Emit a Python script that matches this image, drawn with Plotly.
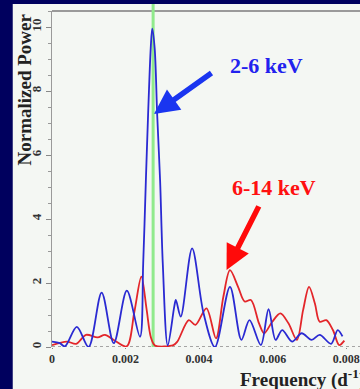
import plotly.graph_objects as go

# Power spectra: frequency (1/day) and normalized power
blue_freq = [0.0, 0.00021, 0.00035, 0.000675, 0.000995, 0.00135, 0.00168, 0.002035,
             0.002392, 0.00248, 0.002552, 0.002613, 0.002685, 0.002725, 0.002792,
             0.002861, 0.002941, 0.003013, 0.003147, 0.003325, 0.003368, 0.003501,
             0.00381, 0.00412, 0.00443, 0.00484, 0.00515, 0.00537, 0.00568, 0.00589,
             0.00608, 0.00626, 0.00653, 0.00679, 0.00706, 0.00728, 0.00759, 0.00777, 0.0079]
blue_power = [0.17, 0.12, 0.02, 0.63, 0.0, 1.7, 0.12, 1.76,
              0.32, 2.6, 5.17, 7.25, 9.34, 9.95, 9.34,
              7.25, 5.17, 2.6, 0.05, 1.26, 1.47, 0.95,
              3.08, 1.06, 0.0, 1.88, 0.22, 0.84, 0.06, 1.18,
              0.22, 0.53, 0.17, 0.43, 0.22, 0.38, 0.1, 0.53, 0.33]

red_freq = [0.0, 0.0004, 0.00066, 0.000925, 0.00124, 0.00144, 0.00168, 0.00203,
            0.00224, 0.00243, 0.00257, 0.00269, 0.0028, 0.0033, 0.00341, 0.00372,
            0.0039, 0.0042, 0.00446, 0.00466, 0.00484, 0.00506, 0.00524, 0.00541,
            0.00563, 0.00577, 0.00599, 0.00621, 0.00643, 0.00666, 0.00683, 0.00699,
            0.00715, 0.00728, 0.00746, 0.00764, 0.00781, 0.00795]
red_power = [0.06, 0.17, 0.1, 0.38, 0.3, 0.38, 0.22, 0.02,
             1.1, 2.2, 1.2, 0.3, 0.05, 0.06, 0.17, 0.84,
             0.69, 1.21, 0.27, 1.57, 2.4, 1.88, 1.42, 1.47,
             0.74, 0.43, 0.79, 1.05, 0.74, 0.22, 1.16, 1.88,
             1.36, 0.79, 0.84, 0.53, 0.06, 0.2]

peak_freq = 0.00275
x_ticks = [0, 0.002, 0.004, 0.006, 0.008]
x_tick_text = ["0", "0.002", "0.004", "0.006", "0.008"]
y_ticks = [0, 2, 4, 6, 8, 10]
band_labels = ["2-6 keV", "6-14 keV"]

# arrow tips (on the peaks) and label anchor points, in data units
blue_tip = (0.002773, 7.28)
red_tip = (0.004747, 2.41)
blue_label_pos = (0.005827, 8.81)
red_label_pos = (0.006040, 4.97)

SERIF = "Liberation Serif, Times New Roman, serif"
NAVY = "#00005e"
PANEL = "#f4f7f3"

fig = go.Figure()

fig.add_trace(go.Scatter(x=red_freq, y=red_power, mode="lines",
                         line=dict(color="#e3262a", width=1.8, shape="spline", smoothing=0.9),
                         showlegend=False, hoverinfo="skip"))
fig.add_trace(go.Scatter(x=blue_freq, y=blue_power, mode="lines",
                         line=dict(color="#2a2ad2", width=1.8, shape="spline", smoothing=0.9),
                         showlegend=False, hoverinfo="skip"))

shapes = [
    # light panel over the navy page
    dict(type="rect", xref="paper", yref="paper", x0=-0.13, x1=1.02, y0=-0.13, y1=1.0208,
         fillcolor=PANEL, line=dict(width=0), layer="below"),
    # frame top
    dict(type="line", xref="paper", yref="paper", x0=0, x1=1.02, y0=1.0, y1=1.0,
         line=dict(color="#9a9a9a", width=2), layer="below"),
    # zero baseline (dotted)
    dict(type="line", xref="paper", yref="y", x0=0, x1=1.02, y0=0, y1=0,
         line=dict(color="#8a8a8a", width=1.5, dash="dot"), layer="below"),
    # detected period marker
    dict(type="line", xref="x", yref="paper", x0=peak_freq, x1=peak_freq, y0=0, y1=1.0208,
         line=dict(color="#90ea8c", width=3), layer="below"),
]

annotations = [
    # arrows
    dict(text="", x=blue_tip[0], y=blue_tip[1], xref="x", yref="y",
         ax=59, ay=-42, axref="pixel", ayref="pixel",
         showarrow=True, arrowhead=2, arrowsize=0.9, arrowwidth=5.5, arrowcolor="#1a35f0",
         standoff=0, startstandoff=0),
    dict(text="", x=red_tip[0], y=red_tip[1], xref="x", yref="y",
         ax=33, ay=-65, axref="pixel", ayref="pixel",
         showarrow=True, arrowhead=2, arrowsize=0.9, arrowwidth=5.5, arrowcolor="#ff0a0a",
         standoff=0, startstandoff=0),
    # band labels
    dict(text=band_labels[0], x=blue_label_pos[0], y=blue_label_pos[1], xref="x", yref="y",
         showarrow=False, xanchor="center", yanchor="middle",
         font=dict(family=SERIF, size=22, color="#2222ee", weight="bold")),
    dict(text=band_labels[1], x=red_label_pos[0], y=red_label_pos[1], xref="x", yref="y",
         showarrow=False, xanchor="center", yanchor="middle",
         font=dict(family=SERIF, size=22, color="#ff1010", weight="bold")),
    # axis titles
    dict(text="Normalized Power", x=-0.091, y=0.765, xref="paper", yref="paper",
         xanchor="center", yanchor="middle", showarrow=False, textangle=-90,
         font=dict(family=SERIF, size=19, color="#222222", weight="bold")),
    dict(text="Frequency (d<sup>-1</sup>)", x=0.617, y=-0.095, xref="paper", yref="paper",
         xanchor="left", yanchor="middle", showarrow=False,
         font=dict(family=SERIF, size=19, color="#222222", weight="bold")),
]

fig.update_layout(
    width=360, height=389,
    margin=dict(l=52, r=0, t=11, b=42, pad=0),
    paper_bgcolor=NAVY, plot_bgcolor=PANEL,
    shapes=shapes, annotations=annotations,
    xaxis=dict(range=[0, 0.008213], tickvals=x_ticks, ticktext=x_tick_text,
               showgrid=False, zeroline=False, showline=False, ticklabeloverflow="allow",
               ticks="outside", ticklen=1, tickcolor="#888888",
               tickfont=dict(family=SERIF, size=12, color="#333333", weight="bold")),
    yaxis=dict(range=[0, 10.5], tickvals=y_ticks, tickangle=-90,
               showgrid=False, zeroline=False, showline=True, linecolor="#9a9a9a", linewidth=1.2,
               ticks="outside", ticklen=5, tickcolor="#888888",
               minor=dict(dtick=0.5, ticks="outside", ticklen=3, tickcolor="#999999"),
               tickfont=dict(family=SERIF, size=13, color="#333333", weight="bold")),
)

fig.write_html("out.html")
